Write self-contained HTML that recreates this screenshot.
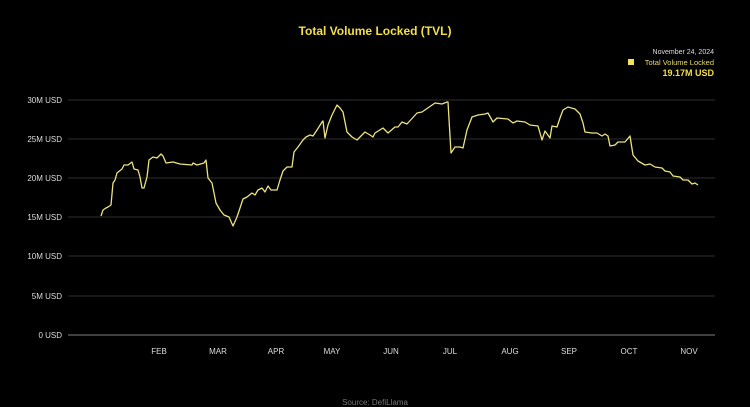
<!DOCTYPE html>
<html><head><meta charset="utf-8"><style>
html,body{margin:0;padding:0;background:#000;}
svg{display:block;font-family:"Liberation Sans",sans-serif;}
</style></head><body>
<svg width="750" height="407" viewBox="0 0 750 407">
<rect width="750" height="407" fill="#000"/>
<text x="375" y="35" text-anchor="middle" font-size="12" font-weight="bold" fill="#f3df4a">Total Volume Locked (TVL)</text>
<text x="714" y="54" text-anchor="end" font-size="7" fill="#ddd">November 24, 2024</text>
<rect x="628" y="59" width="6" height="6" fill="#f3e35a"/>
<text x="714" y="65" text-anchor="end" font-size="7.5" fill="#e8dc6a">Total Volume Locked</text>
<text x="714" y="76" text-anchor="end" font-size="9" font-weight="bold" fill="#f3df4a">19.17M USD</text>
<g stroke="#2e2e2e" stroke-width="1">
<line x1="68" y1="100" x2="715" y2="100"/>
<line x1="68" y1="139" x2="715" y2="139"/>
<line x1="68" y1="178" x2="715" y2="178"/>
<line x1="68" y1="217" x2="715" y2="217"/>
<line x1="68" y1="256" x2="715" y2="256"/>
<line x1="68" y1="296" x2="715" y2="296"/>
</g>
<line x1="68" y1="335" x2="715" y2="335" stroke="#555" stroke-width="1.5"/>
<g font-size="8" fill="#ddd" text-anchor="end">
<text x="62" y="103">30M USD</text>
<text x="62" y="142">25M USD</text>
<text x="62" y="181">20M USD</text>
<text x="62" y="220">15M USD</text>
<text x="62" y="259">10M USD</text>
<text x="62" y="299">5M USD</text>
<text x="62" y="338">0 USD</text>
</g>
<g font-size="8" fill="#ddd" text-anchor="middle">
<text x="159" y="354">FEB</text><text x="218" y="354">MAR</text><text x="276" y="354">APR</text>
<text x="332" y="354">MAY</text><text x="391" y="354">JUN</text><text x="450" y="354">JUL</text>
<text x="510" y="354">AUG</text><text x="569" y="354">SEP</text><text x="629" y="354">OCT</text>
<text x="689" y="354">NOV</text>
</g>
<polyline fill="none" stroke="#ece37e" stroke-width="1.3" stroke-linejoin="round" points="101,216 103,210 106,208 108,207 111,205 113,183 115,180 117,173 122,169 124,165 128,165 132,162 134,169 138,170 140,177 142,188 144,188 147,177 149,160 153,157 157,158 161,154 163,156 166,163 173,162 180,164 192,165 193,163 197,165 204,163 206,160 208,178 212,183 216,203 220,210 224,215 229,217 233,226 237,217 240,208 243,199 247,197 252,193 255,195 258,190 262,188 265,192 268,186 271,190 277,190 280,180 283,171 287,167 292,167 294,152 298,147 303,140 306,137 310,135 313,136 317,130 322,122 323,121 325,138 328,125 332,115 337,105 340,108 343,112 347,132 352,137 357,140 362,135 365,132 370,135 373,137 375,133 383,128 388,133 395,127 398,127 402,122 407,124 417,113 422,112 435,103 442,104 447,102 448,102 451,153 455,147 460,147 463,148 467,130 472,117 478,115 485,114 488,113 493,122 497,118 508,119 513,123 517,121 525,122 530,125 538,126 542,140 545,131 550,138 552,126 557,127 560,118 563,110 568,107 575,109 580,114 583,123 585,132 592,133 597,133 602,136 605,134 608,136 610,146 615,145 618,142 625,142 630,136 633,155 638,161 645,165 650,164 655,167 662,168 665,171 670,172 673,176 680,177 683,180 688,180 692,184 695,183 698,185"/>
<text x="375" y="405" text-anchor="middle" font-size="8" fill="#777">Source: DefiLlama</text>
</svg>
</body></html>
